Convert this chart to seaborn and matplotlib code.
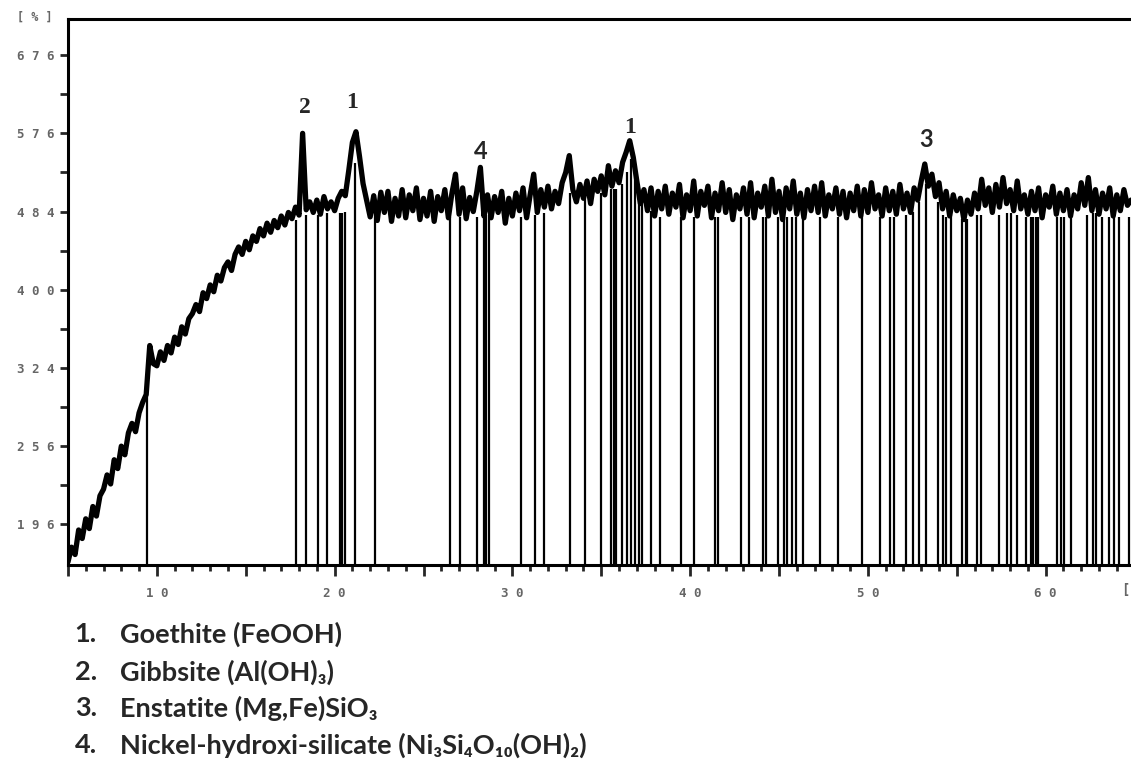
import numpy as np
import matplotlib
matplotlib.use("Agg")
import matplotlib.pyplot as plt
import seaborn as sns
from matplotlib.ticker import FixedLocator, MultipleLocator, FuncFormatter

# step-scan pattern: 5.0 -> 64.8 deg 2theta, 0.2 deg step
SCAN_START = 5.0
SCAN_STEP = 0.2
intensity = [
    170, 180, 175, 192, 186,   # 5
    200, 193, 209, 202, 217,   # 6
    222, 233, 226, 245, 238,   # 7
    256, 249, 267, 275, 268,   # 8
    284, 293, 300, 345, 328,   # 9
    326, 339, 331, 345, 338,   # 10
    353, 346, 363, 356, 371,   # 11
    376, 385, 378, 397, 391,   # 12
    405, 398, 415, 409, 423,   # 13
    429, 420, 437, 445, 437,   # 14
    451, 442, 457, 451, 465,   # 15
    457, 471, 461, 474, 466,   # 16
    479, 469, 483, 476, 489,   # 17
    480, 576, 486, 495, 483,   # 18
    497, 481, 501, 487, 495,   # 19
    485, 499, 507, 502, 532,   # 20
    565, 578, 548, 516, 497,   # 21
    478, 502, 474, 506, 483,   # 22
    507, 473, 499, 479, 509,   # 23
    477, 503, 485, 511, 475,   # 24
    499, 479, 507, 473, 501,   # 25
    485, 509, 477, 505, 527,   # 26
    481, 511, 476, 500, 484,   # 27
    507, 535, 479, 503, 477,   # 28
    501, 483, 507, 471, 499,   # 29
    479, 505, 485, 511, 477,   # 30
    503, 527, 483, 509, 489,   # 31
    513, 487, 507, 493, 517,   # 32
    529, 549, 509, 495, 515,   # 33
    499, 519, 493, 521, 507,   # 34
    525, 503, 537, 513, 531,   # 35
    517, 541, 553, 567, 547,   # 36
    519, 493, 509, 485, 511,   # 37
    479, 507, 487, 513, 481,   # 38
    505, 489, 515, 477, 503,   # 39
    485, 519, 479, 507, 491,   # 40
    513, 477, 505, 485, 517,   # 41
    483, 509, 475, 503, 487,   # 42
    511, 481, 517, 477, 505,   # 43
    489, 513, 479, 521, 483,   # 44
    507, 475, 511, 487, 519,   # 45
    481, 505, 477, 509, 485,   # 46
    513, 483, 517, 479, 503,   # 47
    487, 511, 481, 507, 477,   # 48
    505, 485, 513, 479, 509,   # 49
    483, 517, 487, 503, 479,   # 50
    511, 485, 507, 481, 515,   # 51
    487, 505, 483, 511, 497,   # 52
    519, 539, 513, 527, 501,   # 53
    517, 487, 507, 479, 503,   # 54
    485, 499, 475, 497, 481,   # 55
    505, 487, 521, 491, 511,   # 56
    483, 515, 489, 523, 493,   # 57
    509, 485, 519, 487, 503,   # 58
    481, 507, 485, 511, 477,   # 59
    503, 489, 513, 481, 505,   # 60
    485, 509, 479, 503, 487,   # 61
    517, 491, 523, 485, 509,   # 62
    481, 505, 487, 511, 479,   # 63
    503, 485, 509, 491, 497,   # 64
]

# reference stick positions and where they stop
stick_pos = [
    9.47,
    17.81, 18.37, 19.04, 19.55, 20.28, 20.39, 20.56, 21.12, 22.25,
    26.50, 27.04, 28.03, 28.39, 28.54, 28.67, 30.50, 31.25, 31.78,
    33.22, 34.06, 34.96, 35.56, 35.69, 35.84, 36.16, 36.46, 36.69, 36.87,
    37.15, 37.28, 37.77, 38.33, 39.49, 40.24, 41.40, 41.55,
    42.87, 43.33, 44.08, 44.27, 44.93, 45.30, 45.45, 45.73, 45.96, 46.33,
    47.32, 48.33, 49.66, 50.67, 51.25, 51.47, 52.13, 52.56, 52.85,
    53.26, 53.95, 54.20, 54.42, 54.70, 55.32, 55.51, 55.60, 56.16, 56.35,
    57.38, 57.85, 58.03, 58.37, 58.88, 59.16, 59.31, 59.44, 59.57, 60.66,
    60.84, 61.03, 61.44, 62.34, 62.68, 62.81, 63.19, 63.56, 63.84, 64.12, 64.68,
]
stick_top = [
    312,
    474, 480, 480, 482, 482, 482, 484, 540, 480,
    478, 478, 478, 480, 480, 480, 478, 480, 482,
    505, 500, 505, 510, 510, 510, 515, 530, 545, 530,
    500, 495, 485, 478, 478, 478, 478, 478,
    478, 478, 478, 478, 478, 478, 478, 478, 478, 478,
    478, 478, 478, 478, 478, 478, 480, 484, 495,
    515, 495, 480, 478, 478, 476, 476, 476, 480, 480,
    480, 482, 482, 480, 478, 478, 478, 478, 478, 478,
    478, 478, 478, 480, 482, 482, 478, 478, 478, 478, 478,
]

peak_labels = ["2", "1", "4", "1", "3"]
peak_x = [18.3, 21.0, 28.2, 36.6, 53.3]
peak_y = [608, 615, 554, 583, 569]
peak_serif = [True, True, False, True, False]

y_ticks = [196, 256, 324, 400, 484, 576, 676]
y_minor = [225, 289, 361, 441, 529, 625]

legend_num = ["1.", "2.", "3.", "4."]
legend_txt = [
    "Goethite (FeOOH)",
    "Gibbsite (Al(OH)\u2083)",
    "Enstatite (Mg,Fe)SiO\u2083",
    "Nickel-hydroxi-silicate (Ni\u2083Si\u2084O\u2081\u2080(OH)\u2082)",
]


def spaced(v, pos=None):
    return " ".join(str(int(round(v))))


def main():
    sns.set_style("ticks")
    plt.rcParams["font.family"] = ["DejaVu Sans"]

    two_theta = np.round(SCAN_START + SCAN_STEP * np.arange(len(intensity)), 1)

    fig = plt.figure(figsize=(11.31, 7.64), dpi=100)
    ax = fig.add_axes([0.0601, 0.2605, 0.9399, 0.7147])

    ax.set_yscale("function", functions=(lambda v: np.sqrt(np.clip(v, 0, None)), np.square))
    ax.set_xlim(5.0, 64.8)
    ax.set_ylim(168, 725)

    ax.vlines(stick_pos, 168, stick_top, color="black", lw=1.6, zorder=2)
    sns.lineplot(x=two_theta, y=intensity, ax=ax, color="black", lw=3.8,
                 estimator=None, sort=False, zorder=3)

    for lab, px, py, serif in zip(peak_labels, peak_x, peak_y, peak_serif):
        ax.text(px, py, lab, ha="center", va="center", fontsize=17, fontweight="bold",
                family="Liberation Serif" if serif else "Lato")

    ax.yaxis.set_major_locator(FixedLocator(y_ticks))
    ax.yaxis.set_minor_locator(FixedLocator(y_minor))
    ax.yaxis.set_major_formatter(FuncFormatter(spaced))
    ax.yaxis.set_minor_formatter(FuncFormatter(lambda v, p: ""))
    ax.xaxis.set_major_locator(MultipleLocator(5))
    ax.xaxis.set_minor_locator(MultipleLocator(1))
    ax.xaxis.set_major_formatter(
        FuncFormatter(lambda v, p: spaced(v) if int(round(v)) % 10 == 0 else ""))

    ax.tick_params(axis="y", which="both", direction="out", length=6, width=2.0,
                   labelsize=9, labelcolor="#666666", pad=4)
    ax.tick_params(axis="x", which="major", direction="out", length=8, width=2.0,
                   labelsize=9, labelcolor="#666666", pad=8)
    ax.tick_params(axis="x", which="minor", direction="out", length=4.5, width=2.0)
    for lab in ax.get_yticklabels() + ax.get_xticklabels():
        lab.set_family("DejaVu Sans Mono")
        lab.set_fontweight("bold")

    for side in ["left", "bottom", "top"]:
        ax.spines[side].set_visible(True)
        ax.spines[side].set_linewidth(2.2)
        ax.spines[side].set_color("black")
    ax.spines["right"].set_visible(False)
    ax.set_xlabel("")
    ax.set_ylabel("")

    fig.text(0.031, 0.977, "[ % ]", ha="center", va="center", fontsize=8.5,
             color="#666666", family="DejaVu Sans Mono", fontweight="bold")
    fig.text(0.995, 0.228, "[", ha="center", va="center", fontsize=10,
             color="#666666", family="DejaVu Sans Mono", fontweight="bold")

    rows_y = [634, 672, 708, 745]
    for num, txt, ry in zip(legend_num, legend_txt, rows_y):
        fig.text(0.066, 1 - ry / 764, num, ha="left", va="center", fontsize=19.5,
                 fontweight="bold", family=["Lato", "DejaVu Sans"])
        fig.text(0.106, 1 - ry / 764, txt, ha="left", va="center", fontsize=19.5,
                 fontweight="bold", family=["Lato", "DejaVu Sans"])

    fig.savefig("out.png", dpi=100)
    plt.close(fig)


if __name__ == "__main__":
    main()
